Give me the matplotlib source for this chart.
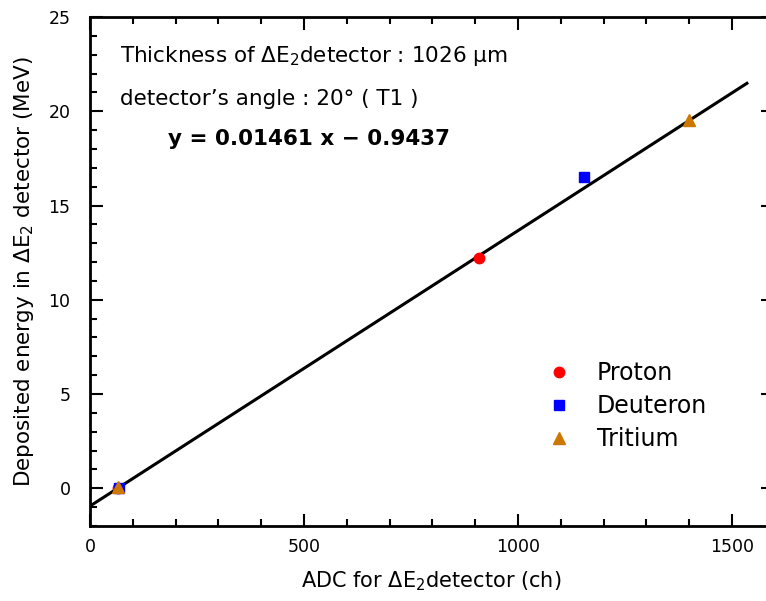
import matplotlib
matplotlib.use('Agg')
import matplotlib.pyplot as plt
from matplotlib.ticker import MultipleLocator

plt.rcParams['font.family'] = ['DejaVu Sans']
plt.rcParams['mathtext.fontset'] = 'dejavusans'

# data
proton_adc = [65, 910]
proton_e = [0.0, 12.2]
deuteron_adc = [68, 1155]
deuteron_e = [0.0, 16.5]
tritium_adc = [66, 1400]
tritium_e = [0.05, 19.55]
slope = 0.01461
intercept = -0.9437
fit_x = [0, 1535]

fig = plt.figure(figsize=(7.66, 6.01), dpi=100)
ax = fig.add_axes([90 / 766, 1 - 526 / 601, 683 / 766, 509 / 601])

fit_y = [slope * x + intercept for x in fit_x]
ax.plot(fit_x, fit_y, color='black', lw=2.2, zorder=2)

ax.plot(proton_adc, proton_e, 'o', color='#ff0000', ms=7.5, ls='none', label='Proton', zorder=3)
ax.plot(deuteron_adc, deuteron_e, 's', color='#0000ff', ms=6.5, ls='none', label='Deuteron', zorder=3)
ax.plot(tritium_adc, tritium_e, '^', color='#cc7700', ms=9, ls='none', label='Tritium', zorder=3)

ax.set_xlim(0, 1596)
ax.set_ylim(-2, 25)
ax.xaxis.set_major_locator(MultipleLocator(500))
ax.xaxis.set_minor_locator(MultipleLocator(100))
ax.yaxis.set_major_locator(MultipleLocator(5))
ax.yaxis.set_minor_locator(MultipleLocator(1))
ax.tick_params(which='both', direction='in', top=True, right=True, width=1.5, labelsize=12.5)
ax.tick_params(which='major', length=9)
ax.tick_params(axis='x', which='major', pad=9)
ax.tick_params(axis='y', which='major', pad=14)
ax.tick_params(which='minor', length=5)
for s in ax.spines.values():
    s.set_linewidth(2)

ax.set_xlabel(r'ADC for $\Delta$E$_2$detector (ch)', fontsize=15, labelpad=9)
ax.set_ylabel(r'Deposited energy in $\Delta$E$_2$ detector (MeV)', fontsize=15.5, labelpad=9)

ax.text(120 / 766, 1 - 62 / 601, 'Thickness of $\\Delta$E$_2$detector : 1026 \u03bcm',
        transform=fig.transFigure, fontsize=15.5)
ax.text(120 / 766, 1 - 105 / 601, 'detector\u2019s angle : 20\u00b0 ( T1 )',
        transform=fig.transFigure, fontsize=15.5)
ax.text(168 / 766, 1 - 145 / 601, 'y = 0.01461 x \u2212 0.9437',
        transform=fig.transFigure, fontsize=15.5, fontweight='bold')

ax.legend(loc='upper left', bbox_to_anchor=(547 / 766, 1 - 361 / 601), bbox_transform=fig.transFigure,
          frameon=False, fontsize=17, handlelength=1.0, handletextpad=1.1, labelspacing=0.38,
          borderpad=0, borderaxespad=0)

fig.savefig('out.png', dpi=100)
